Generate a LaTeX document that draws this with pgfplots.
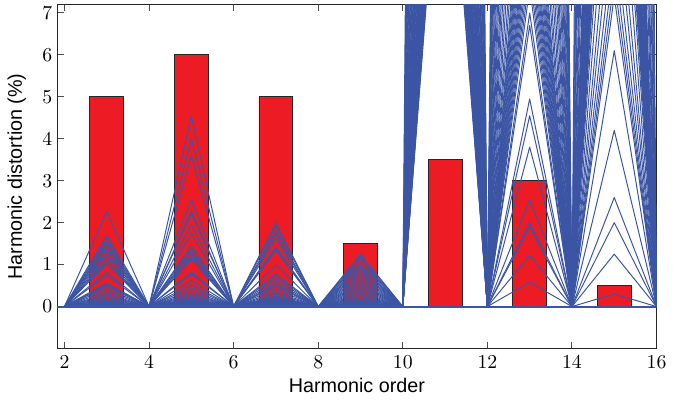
\documentclass[border=0pt]{standalone}
\usepackage{pgfplots}
\pgfplotsset{compat=1.18}
\usepackage{fontspec}
\newfontfamily\labelfont{Liberation Sans}
\definecolor{hblue}{RGB}{59,85,164}
\definecolor{bred}{RGB}{237,28,36}
\begin{document}
\begin{tikzpicture}
\begin{axis}[
 scale only axis, width=303.5pt, height=174.2pt,
 xmin=1.83, xmax=16, ymin=-1, ymax=7.2,
 xtick={2,4,...,16}, ytick={0,1,...,7},
 tick align=inside,
 xlabel={\labelfont Harmonic order},
 ylabel={\labelfont Harmonic distortion (\%)},
 axis line style={line width=0.6pt, black!85},
 every tick/.style={black!70, line width=0.5pt},
 major tick length=3.5pt,
 yticklabel style={xshift=1pt},
 xlabel style={yshift=2pt},
 ylabel style={yshift=1.5pt},
 hl/.style={draw=hblue, solid, mark=none, line width=0.5pt, line join=round},
]
\addplot[ybar, bar width=0.8, bar shift=0pt, fill=bred, draw=black!85, line width=0.5pt] coordinates {(3,5)(5,6)(7,5)(9,1.5)(11,3.5)(13,3)(15,0.5)};
\addplot[hl, line width=1pt] coordinates {(1,0)(16,0)};
\addplot[hl] coordinates {(1,0)(2,0)(3,2.27)(4,0)(5,4.55)(6,0)(7,2.0)(8,0)(9,1.25)(10,0)(11,120)(12,0)(13,0.58)(14,0)(15,0.3)(16,0)};
\addplot[hl] coordinates {(1,0)(2,0)(3,1.7)(4,0)(5,4.0)(6,0)(7,1.92)(8,0)(9,1.2)(10,0)(11,100)(12,0)(13,1.22)(14,0)(15,1.25)(16,0)};
\addplot[hl] coordinates {(1,0)(2,0)(3,1.62)(4,0)(5,3.6)(6,0)(7,1.8)(8,0)(9,1.14)(10,0)(11,85)(12,0)(13,1.9)(14,0)(15,2.0)(16,0)};
\addplot[hl] coordinates {(1,0)(2,0)(3,1.55)(4,0)(5,2.55)(6,0)(7,1.72)(8,0)(9,1.08)(10,0)(11,75)(12,0)(13,2.0)(14,0)(15,2.6)(16,0)};
\addplot[hl] coordinates {(1,0)(2,0)(3,1.48)(4,0)(5,2.27)(6,0)(7,1.62)(8,0)(9,1.02)(10,0)(11,65)(12,0)(13,2.55)(14,0)(15,4.2)(16,0)};
\addplot[hl] coordinates {(1,0)(2,0)(3,1.42)(4,0)(5,2.22)(6,0)(7,1.42)(8,0)(9,0.96)(10,0)(11,58)(12,0)(13,3.8)(14,0)(15,6.1)(16,0)};
\addplot[hl] coordinates {(1,0)(2,0)(3,1.35)(4,0)(5,1.95)(6,0)(7,1.38)(8,0)(9,0.9)(10,0)(11,52)(12,0)(13,4.55)(14,0)(15,7.4)(16,0)};
\addplot[hl] coordinates {(1,0)(2,0)(3,1.28)(4,0)(5,1.75)(6,0)(7,1.34)(8,0)(9,0.84)(10,0)(11,47)(12,0)(13,4.95)(14,0)(15,7.8)(16,0)};
\addplot[hl] coordinates {(1,0)(2,0)(3,1.2)(4,0)(5,1.45)(6,0)(7,1.0)(8,0)(9,0.78)(10,0)(11,43)(12,0)(13,6.7)(14,0)(15,8.3)(16,0)};
\addplot[hl] coordinates {(1,0)(2,0)(3,1.12)(4,0)(5,1.38)(6,0)(7,0.78)(8,0)(9,0.72)(10,0)(11,40)(12,0)(13,7.0)(14,0)(15,9)(16,0)};
\addplot[hl] coordinates {(1,0)(2,0)(3,1.08)(4,0)(5,1.3)(6,0)(7,0.72)(8,0)(9,0.66)(10,0)(11,37)(12,0)(13,7.6)(14,0)(15,10)(16,0)};
\addplot[hl] coordinates {(1,0)(2,0)(3,1.02)(4,0)(5,1.25)(6,0)(7,0.65)(8,0)(9,0.6)(10,0)(11,34)(12,0)(13,7.9)(14,0)(15,11)(16,0)};
\addplot[hl] coordinates {(1,0)(2,0)(3,0.82)(4,0)(5,1.18)(6,0)(7,0.58)(8,0)(9,0.55)(10,0)(11,32)(12,0)(13,8.2)(14,0)(15,12.5)(16,0)};
\addplot[hl] coordinates {(1,0)(2,0)(3,0.75)(4,0)(5,1.12)(6,0)(7,0.52)(8,0)(9,0.5)(10,0)(11,30)(12,0)(13,8.5)(14,0)(15,14)(16,0)};
\addplot[hl] coordinates {(1,0)(2,0)(3,0.56)(4,0)(5,0.82)(6,0)(7,0.48)(8,0)(9,0.45)(10,0)(11,28.5)(12,0)(13,8.8)(14,0)(15,15)(16,0)};
\addplot[hl] coordinates {(1,0)(2,0)(3,0.54)(4,0)(5,0.78)(6,0)(7,0.42)(8,0)(9,0.4)(10,0)(11,27)(12,0)(13,9.1)(14,0)(15,15.5)(16,0)};
\addplot[hl] coordinates {(1,0)(2,0)(3,0.52)(4,0)(5,0.62)(6,0)(7,0.35)(8,0)(9,0.35)(10,0)(11,26)(12,0)(13,9.4)(14,0)(15,16)(16,0)};
\addplot[hl] coordinates {(1,0)(2,0)(3,0.48)(4,0)(5,0.52)(6,0)(7,0.3)(8,0)(9,0.3)(10,0)(11,25)(12,0)(13,9.7)(14,0)(15,16.5)(16,0)};
\addplot[hl] coordinates {(1,0)(2,0)(3,0.42)(4,0)(5,0.45)(6,0)(7,0.25)(8,0)(9,0.26)(10,0)(11,24)(12,0)(13,10)(14,0)(15,17)(16,0)};
\addplot[hl] coordinates {(1,0)(2,0)(3,0.36)(4,0)(5,0.38)(6,0)(7,0.22)(8,0)(9,0.22)(10,0)(11,23)(12,0)(13,10.4)(14,0)(15,17.5)(16,0)};
\addplot[hl] coordinates {(1,0)(2,0)(3,0.3)(4,0)(5,0.32)(6,0)(7,0.2)(8,0)(9,0.18)(10,0)(11,22)(12,0)(13,10.8)(14,0)(15,18)(16,0)};
\addplot[hl] coordinates {(1,0)(2,0)(3,0.26)(4,0)(5,0.28)(6,0)(7,0.18)(8,0)(9,0.15)(10,0)(11,21)(12,0)(13,11.2)(14,0)(15,18.5)(16,0)};
\addplot[hl] coordinates {(1,0)(2,0)(3,0.22)(4,0)(5,0.24)(6,0)(7,0.16)(8,0)(9,0.12)(10,0)(11,20.5)(12,0)(13,11.6)(14,0)(15,19)(16,0)};
\addplot[hl] coordinates {(1,0)(2,0)(3,0.18)(4,0)(5,0.2)(6,0)(7,0.14)(8,0)(9,0.1)(10,0)(11,20)(12,0)(13,12)(14,0)(15,19.5)(16,0)};
\addplot[hl] coordinates {(1,0)(2,0)(3,0.15)(4,0)(5,0.17)(6,0)(7,0.12)(8,0)(9,0.09)(10,0)(11,19.5)(12,0)(13,12.5)(14,0)(15,20)(16,0)};
\addplot[hl] coordinates {(1,0)(2,0)(3,0.12)(4,0)(5,0.15)(6,0)(7,0.11)(8,0)(9,0.08)(10,0)(11,19)(12,0)(13,13)(14,0)(15,20.5)(16,0)};
\addplot[hl] coordinates {(1,0)(2,0)(3,0.1)(4,0)(5,0.13)(6,0)(7,0.1)(8,0)(9,0.07)(10,0)(11,18.5)(12,0)(13,14)(14,0)(15,21)(16,0)};
\addplot[hl] coordinates {(1,0)(2,0)(3,0.09)(4,0)(5,0.11)(6,0)(7,0.09)(8,0)(9,0.06)(10,0)(11,18)(12,0)(13,15)(14,0)(15,22)(16,0)};
\addplot[hl] coordinates {(1,0)(2,0)(3,0.08)(4,0)(5,0.1)(6,0)(7,0.08)(8,0)(9,0.05)(10,0)(11,17.5)(12,0)(13,16.5)(14,0)(15,23)(16,0)};
\addplot[hl] coordinates {(1,0)(2,0)(3,0.07)(4,0)(5,0.09)(6,0)(7,0.07)(8,0)(9,0.05)(10,0)(11,17)(12,0)(13,18)(14,0)(15,24)(16,0)};
\addplot[hl] coordinates {(1,0)(2,0)(3,0.06)(4,0)(5,0.08)(6,0)(7,0.06)(8,0)(9,0.04)(10,0)(11,16.5)(12,0)(13,20)(14,0)(15,25)(16,0)};
\addplot[hl] coordinates {(1,0)(2,0)(3,0.05)(4,0)(5,0.07)(6,0)(7,0.05)(8,0)(9,0.04)(10,0)(11,16)(12,0)(13,22)(14,0)(15,26)(16,0)};
\addplot[hl] coordinates {(1,0)(2,0)(3,0.04)(4,0)(5,0.06)(6,0)(7,0.05)(8,0)(9,0.03)(10,0)(11,15.8)(12,0)(13,24)(14,0)(15,27)(16,0)};
\addplot[hl] coordinates {(1,0)(2,0)(3,0.04)(4,0)(5,0.05)(6,0)(7,0.04)(8,0)(9,0.03)(10,0)(11,15.5)(12,0)(13,27)(14,0)(15,28)(16,0)};
\addplot[hl] coordinates {(1,0)(2,0)(3,0.03)(4,0)(5,0.04)(6,0)(7,0.04)(8,0)(9,0.02)(10,0)(11,15.2)(12,0)(13,30)(14,0)(15,29)(16,0)};
\addplot[hl] coordinates {(1,0)(2,0)(3,0.03)(4,0)(5,0.04)(6,0)(7,0.03)(8,0)(9,0.02)(10,0)(11,15)(12,0)(13,34)(14,0)(15,30)(16,0)};
\addplot[hl] coordinates {(1,0)(2,0)(3,0.02)(4,0)(5,0.03)(6,0)(7,0.03)(8,0)(9,0.02)(10,0)(11,14.7)(12,0)(13,38)(14,0)(15,35)(16,0)};
\addplot[hl] coordinates {(1,0)(2,0)(3,0.02)(4,0)(5,0.03)(6,0)(7,0.02)(8,0)(9,0.01)(10,0)(11,14.4)(12,0)(13,43)(14,0)(15,40)(16,0)};
\addplot[hl] coordinates {(1,0)(2,0)(3,0.02)(4,0)(5,0.02)(6,0)(7,0.02)(8,0)(9,0.01)(10,0)(11,14.1)(12,0)(13,50)(14,0)(15,45)(16,0)};
\addplot[hl] coordinates {(1,0)(2,0)(3,0.01)(4,0)(5,0.02)(6,0)(7,0.02)(8,0)(9,0.01)(10,0)(11,13.8)(12,0)(13,58)(14,0)(15,55)(16,0)};
\addplot[hl] coordinates {(1,0)(2,0)(3,0.01)(4,0)(5,0.01)(6,0)(7,0.01)(8,0)(9,0.005)(10,0)(11,13.6)(12,0)(13,66)(14,0)(15,65)(16,0)};
\addplot[hl] coordinates {(1,0)(2,0)(3,0.01)(4,0)(5,0.01)(6,0)(7,0.01)(8,0)(9,0.005)(10,0)(11,13.4)(12,0)(13,75)(14,0)(15,80)(16,0)};
\addplot[hl] coordinates {(1,0)(2,0)(3,0.005)(4,0)(5,0.005)(6,0)(7,0.005)(8,0)(9,0.005)(10,0)(11,13.2)(12,0)(13,85)(14,0)(15,100)(16,0)};
\addplot[hl] coordinates {(1,0)(2,0)(3,0.005)(4,0)(5,0.005)(6,0)(7,0.005)(8,0)(9,0.005)(10,0)(11,13)(12,0)(13,100)(14,0)(15,130)(16,0)};
\end{axis}
\path ([shift={(-29pt,-26.15pt)}]current axis.south west) rectangle ([shift={(4pt,2.15pt)}]current axis.north east);
\end{tikzpicture}
\end{document}
